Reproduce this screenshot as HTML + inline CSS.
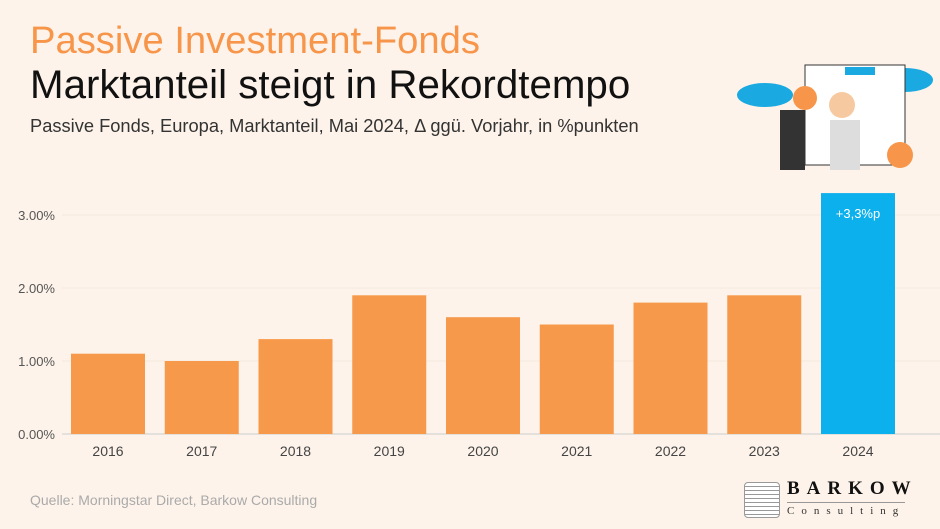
<!DOCTYPE html>
<html><head><meta charset="utf-8"><style>
body{margin:0;width:940px;height:529px;background:#fdf3ea;font-family:"Liberation Sans",sans-serif;overflow:hidden;position:relative}
.t{position:absolute;white-space:nowrap}
</style></head><body>
<div class="t" style="left:30px;top:19px;font-size:38.2px;color:#f7964a">Passive Investment-Fonds</div>
<div class="t" style="left:30px;top:62px;font-size:40.3px;color:#111">Marktanteil steigt in Rekordtempo</div>
<div class="t" style="left:30px;top:115px;font-size:18.3px;color:#333">Passive Fonds, Europa, Marktanteil, Mai 2024, Δ ggü. Vorjahr, in %punkten</div>
<svg style="position:absolute;left:735px;top:45px" width="200" height="130">
<ellipse cx="30" cy="50" rx="28" ry="12" fill="#1aa9e0"/><ellipse cx="170" cy="35" rx="28" ry="12" fill="#1aa9e0"/>
<rect x="70" y="20" width="100" height="100" fill="#fff" stroke="#333"/><rect x="110" y="22" width="30" height="8" fill="#1aa9e0"/>
<circle cx="70" cy="53" r="12" fill="#f7964a"/><circle cx="165" cy="110" r="13" fill="#f7964a"/>
<rect x="45" y="65" width="25" height="60" fill="#333"/><circle cx="107" cy="60" r="13" fill="#f7c9a0"/><rect x="95" y="75" width="30" height="50" fill="#ddd"/>
</svg>
<svg id="chart" style="position:absolute;left:0;top:0" width="940" height="529"></svg>
<div class="t" style="left:30px;top:492px;font-size:14px;color:#aaa">Quelle: Morningstar Direct, Barkow Consulting</div>
<div style="position:absolute;left:744px;top:482px;width:34px;height:34px;border:1px solid #999;border-radius:4px;background:#fff;background-image:repeating-linear-gradient(#fff 0 3px,#999 3px 4px)"></div>
<div class="t" style="left:787px;top:478px;font-family:'Liberation Serif',serif;font-size:19px;letter-spacing:7px;font-weight:bold;color:#111">BARKOW</div>
<div style="position:absolute;left:787px;top:502px;width:118px;height:1px;background:#999"></div>
<div class="t" style="left:787px;top:505px;font-family:'Liberation Serif',serif;font-size:11px;letter-spacing:7px;color:#333">Consulting</div>
<script>
const categories=["2016","2017","2018","2019","2020","2021","2022","2023","2024"];
const values=[1.1,1.0,1.3,1.9,1.6,1.5,1.8,1.9,3.3];
const ticks=[0,1,2,3];
const tickLabels=["0.00%","1.00%","2.00%","3.00%"];
const svg=document.getElementById('chart');const NS="http://www.w3.org/2000/svg";
const y=v=>434-v*73;const x=i=>71+i*93.75;const bw=74;
function mk(t,a){const e=document.createElementNS(NS,t);for(const k in a)e.setAttribute(k,a[k]);svg.appendChild(e);return e;}
ticks.forEach((t,i)=>{
 const l=mk('line',{x1:62,x2:940,y1:y(t),y2:y(t),stroke:i?'#f3e8dc':'#ccc','stroke-width':1});
 
 
 const tx=mk('text',{x:55,y:y(t)+5,'text-anchor':'end','font-size':13,fill:'#555','font-family':'Liberation Sans'});tx.textContent=tickLabels[i];
 
 
});
values.forEach((v,i)=>{
 const last=i===values.length-1;
 const r=mk('rect',{x:x(i),y:y(v),width:bw,height:434-y(v),fill:last?'#0bb0ec':'#f7994b'});
 
 
 const t=mk('text',{x:x(i)+bw/2,y:456,'text-anchor':'middle','font-size':14,fill:'#444','font-family':'Liberation Sans'});t.textContent=categories[i];
 
 
 if(last){const d=mk('text',{x:x(i)+bw/2,y:y(v)+25,'text-anchor':'middle','font-size':13,fill:'#fff','font-family':'Liberation Sans'});d.textContent='+'+String(v).replace('.',',')+'%p';
 
 }
});
</script>
</body></html>
